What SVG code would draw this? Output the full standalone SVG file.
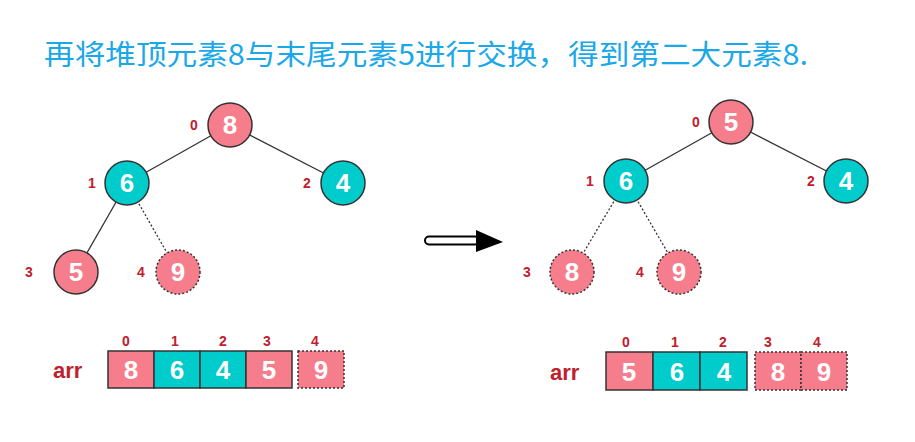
<svg xmlns="http://www.w3.org/2000/svg" width="915" height="442" viewBox="0 0 915 442">
<style>
.title{font-family:"Noto Sans CJK SC","Liberation Sans",sans-serif;font-size:28px;fill:#1aa8e8}
.pk{fill:#f67d8b;stroke:#333;stroke-width:1.5}
.tl{fill:#00cccc;stroke:#333;stroke-width:1.5}
.dot{stroke-dasharray:2,2}
.v{font-family:"Liberation Sans",Arial,sans-serif;font-weight:bold;font-size:26px;fill:#fff;text-anchor:middle}
.i{font-family:"Liberation Sans",Arial,sans-serif;font-weight:bold;font-size:14px;fill:#c0202c;text-anchor:middle}
.arr{font-family:"Liberation Sans",Arial,sans-serif;font-weight:bold;font-size:22px;fill:#c0202c}
.e{stroke:#333;stroke-width:1.3;fill:none}
</style>
<rect width="915" height="442" fill="#fff"/>
<text class="title" x="44" y="65" textLength="764" lengthAdjust="spacingAndGlyphs">再将堆顶元素8与末尾元素5进行交换，得到第二大元素8.</text>

<g id="connectors">
<line class="e" x1="230" y1="125" x2="127" y2="183"/>
<line class="e" x1="230" y1="125" x2="343" y2="183"/>
<line class="e" x1="127" y1="183" x2="76" y2="272"/>
<line class="e dot" x1="127" y1="183" x2="178" y2="272"/>
<line class="e" x1="731" y1="122" x2="626" y2="181"/>
<line class="e" x1="731" y1="122" x2="846" y2="181"/>
<line class="e dot" x1="626" y1="181" x2="572" y2="272"/>
<line class="e dot" x1="626" y1="181" x2="679" y2="272"/>
</g>

<g id="L0"><circle class="pk" cx="230" cy="125" r="22"/><text class="v" x="230" y="134">8</text><text class="i" x="194" y="130">0</text></g>
<g id="L1"><circle class="tl" cx="127" cy="183" r="22"/><text class="v" x="127" y="192">6</text><text class="i" x="92" y="188">1</text></g>
<g id="L2"><circle class="tl" cx="343" cy="183" r="22"/><text class="v" x="343" y="192">4</text><text class="i" x="307" y="188">2</text></g>
<g id="L3"><circle class="pk" cx="76" cy="272" r="22"/><text class="v" x="76" y="281">5</text><text class="i" x="29" y="277">3</text></g>
<g id="L4"><circle class="pk dot" cx="178" cy="272" r="22"/><text class="v" x="178" y="281">9</text><text class="i" x="141" y="277">4</text></g>

<g id="R0"><circle class="pk" cx="731" cy="122" r="22"/><text class="v" x="731" y="131">5</text><text class="i" x="696" y="127">0</text></g>
<g id="R1"><circle class="tl" cx="626" cy="181" r="22"/><text class="v" x="626" y="190">6</text><text class="i" x="590" y="186">1</text></g>
<g id="R2"><circle class="tl" cx="846" cy="181" r="22"/><text class="v" x="846" y="190">4</text><text class="i" x="811" y="186">2</text></g>
<g id="R3"><circle class="pk dot" cx="572" cy="272" r="22"/><text class="v" x="572" y="281">8</text><text class="i" x="527" y="277">3</text></g>
<g id="R4"><circle class="pk dot" cx="679" cy="272" r="22"/><text class="v" x="679" y="281">9</text><text class="i" x="640" y="277">4</text></g>

<g id="arrow">
<rect x="425" y="236.5" width="54" height="8" rx="4" fill="#fff" stroke="#000" stroke-width="2"/>
<polygon points="476,230 503,242 476,252" fill="#000"/>
</g>

<g id="arrLeft">
<text class="arr" x="53" y="378">arr</text>
<rect class="pk" x="108" y="351" width="46" height="37"/><text class="v" x="131" y="379">8</text>
<rect class="tl" x="154" y="351" width="46" height="37"/><text class="v" x="177" y="379">6</text>
<rect class="tl" x="200" y="351" width="46" height="37"/><text class="v" x="223" y="379">4</text>
<rect class="pk" x="246" y="351" width="46" height="37"/><text class="v" x="269" y="379">5</text>
<rect class="pk dot" x="298" y="351" width="46" height="37"/><text class="v" x="321" y="379">9</text>
<text class="i" x="126" y="346">0</text><text class="i" x="175" y="346">1</text><text class="i" x="223" y="346">2</text><text class="i" x="267" y="346">3</text><text class="i" x="315" y="346">4</text>
</g>

<g id="arrRight">
<text class="arr" x="550" y="380">arr</text>
<rect class="pk" x="606" y="352" width="47" height="38"/><text class="v" x="629" y="381">5</text>
<rect class="tl" x="653" y="352" width="47" height="38"/><text class="v" x="677" y="381">6</text>
<rect class="tl" x="700" y="352" width="47" height="38"/><text class="v" x="724" y="381">4</text>
<rect class="pk dot" x="755" y="352" width="46" height="38"/><text class="v" x="778" y="381">8</text>
<rect class="pk dot" x="801" y="352" width="46" height="38"/><text class="v" x="824" y="381">9</text>
<text class="i" x="626" y="347">0</text><text class="i" x="675" y="347">1</text><text class="i" x="723" y="347">2</text><text class="i" x="768" y="347">3</text><text class="i" x="817" y="347">4</text>
</g>
</svg>
